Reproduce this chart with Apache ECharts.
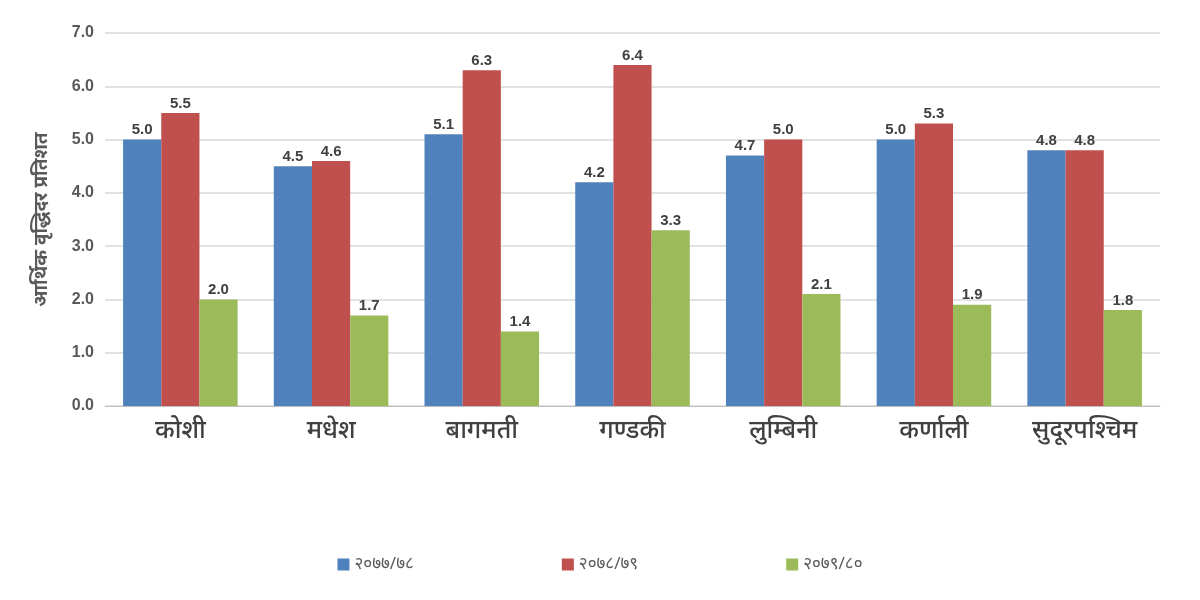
<!DOCTYPE html>
<html><head><meta charset="utf-8">
<script src="https://cdn.jsdelivr.net/npm/echarts@6/dist/echarts.min.js"></script>
<style>html,body{margin:0;padding:0;background:#fff}#c{width:1200px;height:600px}</style>
</head><body><div id="c"></div>
<script>
const categories = ['कोशी','मधेश','बागमती','गण्डकी','लुम्बिनी','कर्णाली','सुदूरपश्चिम'];
const seriesNames = ['२०७७/७८','२०७८/७९','२०७९/८०'];
const values7778 = [5.0,4.5,5.1,4.2,4.7,5.0,4.8];
const values7879 = [5.5,4.6,6.3,6.4,5.0,5.3,4.8];
const values7980 = [2.0,1.7,1.4,3.3,2.1,1.9,1.8];
const yTicks = {min:0,max:7,interval:1};
const yTitle = 'आर्थिक वृद्धिदर प्रतिशत';
const colors = ['#4f81bd','#c0504d','#9bbb59'];
const font = 'Noto Sans, Roboto, sans-serif';
const chart = echarts.init(document.getElementById('c'));
const mk = (name, data, i) => ({
  name, type:'bar', data, barGap:'0%', barCategoryGap:'24%',
  itemStyle:{color:colors[i]},
  label:{show:true, position:'top', distance:2, color:'#404040', fontWeight:'bold', fontSize:15, fontFamily:'Arial, Liberation Sans, sans-serif',
    formatter:p=>p.value.toFixed(1)}
});
chart.setOption({
  animation:false,
  grid:{left:105,right:40,top:33,bottom:194},
  legend:{bottom:22,left:'center',itemWidth:12,itemHeight:12,itemGap:148,icon:'rect',
    textStyle:{color:'#595959',fontSize:17,fontFamily:font}},
  xAxis:{type:'category',data:categories,
    axisLine:{lineStyle:{color:'#bfbfbf'}},axisTick:{show:false},
    axisLabel:{color:'#404040',fontSize:25,fontWeight:500,fontFamily:font,margin:12}},
  yAxis:{type:'value',min:yTicks.min,max:yTicks.max,interval:yTicks.interval,
    name:yTitle,nameLocation:'middle',nameGap:54,nameRotate:90,
    nameTextStyle:{color:'#595959',fontSize:19,fontWeight:'bold',fontFamily:font},
    axisLabel:{color:'#595959',fontSize:16,fontWeight:'bold',fontFamily:'Arial, Liberation Sans, sans-serif',margin:11,formatter:v=>v.toFixed(1)},
    splitLine:{lineStyle:{color:'#d9d9d9',width:1.5}}},
  series:[mk(seriesNames[0],values7778,0),mk(seriesNames[1],values7879,1),mk(seriesNames[2],values7980,2)]
});
</script></body></html>
